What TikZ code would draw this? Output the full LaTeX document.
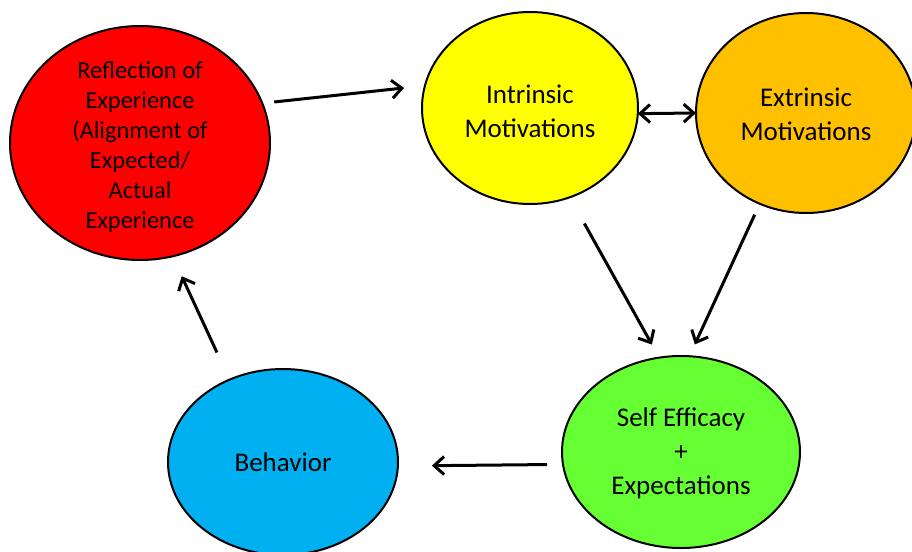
\documentclass[tikz,border=0pt]{standalone}
\usepackage{fontspec}
\setmainfont{Carlito}
\usetikzlibrary{shapes.geometric,arrows.meta}
\definecolor{cRed}{HTML}{FF0000}
\definecolor{cYellow}{HTML}{FFFF00}
\definecolor{cOrange}{HTML}{FFC000}
\definecolor{cGreen}{HTML}{66FF33}
\definecolor{cBlue}{HTML}{00B0F0}
\tikzset{
  blob/.style={ellipse, draw=black, line width=1pt, inner sep=0pt, outer sep=0pt},
  txt/.style={align=center, font=\fontsize{13.5}{17}\selectfont},
  link/.style={-{Straight Barb[length=5pt,width=9pt]}, line width=1.5pt},
}
\begin{document}
\begin{tikzpicture}[x=0.5pt,y=-0.5pt]
      \useasboundingbox (0,0) rectangle (912,552);
      \node[blob, fill=cRed, minimum width=130pt, minimum height=117pt] (refl) at (140,143) {};
      \node[blob, fill=cYellow, minimum width=108pt, minimum height=96pt] (intr) at (530,108) {};
      \node[blob, fill=cOrange, minimum width=110pt, minimum height=100pt] (extr) at (806,113) {};
      \node[blob, fill=cGreen, minimum width=119pt, minimum height=96pt] (self) at (681,452) {};
      \node[blob, fill=cBlue, minimum width=115pt, minimum height=93pt] (behav) at (283,462) {};
      \node[txt, font=\fontsize{12.2}{15}\selectfont] (refltext) at (140,147)
        {Reflection of\\Experience\\(Alignment of\\Expected/\\Actual\\Experience};
      \node[txt] (intrtext) at (530,111) {Intrinsic\\Motivations};
      \node[txt] (extrtext) at (806,114) {Extrinsic\\Motivations};
      \node[txt] (selftext) at (681,453) {Self Efficacy\\+\\Expectations};
      \node[txt] (behavtext) at (283,462) {Behavior};
      \begin{scope}[link]
        \draw[shorten <=6pt, shorten >=10.5pt] (refl.18) to (intr.168);
        \draw[{Straight Barb[length=5pt,width=9pt]}-{Straight Barb[length=5pt,width=9pt]}] (intr.-3) to (extr.west);
        \draw[shorten <=15pt, shorten >=7.5pt] (intr.-66) to (self.103.4);
        \draw[shorten <=6pt, shorten >=6.5pt] (extr.243.4) to (self.85.3);
        \draw[shorten <=8pt, shorten >=17pt] (self.186.5) to (behav.-2);
        \draw[shorten <=15pt, shorten >=11pt] (behav.123.6) to (refl.-74.3);
      \end{scope}
    \end{tikzpicture}
\end{document}
